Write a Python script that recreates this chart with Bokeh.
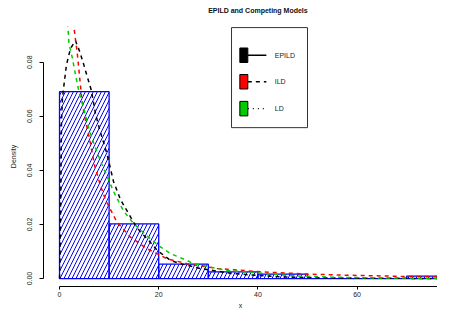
from bokeh.plotting import figure
from bokeh.models import Range1d, FixedTicker, LinearAxis
from bokeh.core.properties import value
from bokeh.embed import file_html
from bokeh.resources import INLINE

# ---------------- data ----------------
bin_edges = [0, 10, 20, 30, 40, 50, 60, 70, 80]
bin_density = [0.0691, 0.0202, 0.0053, 0.00246, 0.00165, 0.0, 0.0, 0.0009]

epild_x = [0, 0.1, 0.25, 0.4, 0.6, 0.9, 1.4, 2.2, 3.2, 4.1, 4.9, 5.6, 6.4, 7.3, 8.1,
           8.9, 9.6, 10.3, 10.9, 12.3, 14.9, 16.3, 17.7, 19.7, 22.4, 24.4, 28.4, 35,
           45, 55, 65, 80]
epild_y = [0, 0.008, 0.03, 0.058, 0.067, 0.0716, 0.079, 0.085, 0.088, 0.0838, 0.079,
           0.0746, 0.0697, 0.0606, 0.055, 0.0502, 0.0459, 0.0404, 0.0358, 0.0292,
           0.0209, 0.0172, 0.0147, 0.0104, 0.0067, 0.0055, 0.0037, 0.0018, 0.0006,
           0.0002, 0.0001, 0.0]

ild_x = [0, 1.2, 2.2, 2.9, 3.6, 4.4, 4.9, 5.9, 7.1, 8.3, 9.3, 11.6, 14.3, 17.7, 21.7,
         25.7, 31.8, 40.5, 50.6, 58.7, 68.8, 80]
ild_y = [0.13, 0.112, 0.099, 0.093, 0.083, 0.068, 0.0612, 0.053, 0.0416, 0.0341,
         0.029, 0.0208, 0.0153, 0.011, 0.0073, 0.0055, 0.0037, 0.0025, 0.0016, 0.0012,
         0.0008, 0.0006]

ld_x = [0, 1.0, 1.7, 1.9, 2.6, 3.0, 3.7, 4.2, 4.9, 5.6, 6.25, 7.6, 8.6, 9.9, 10.9,
        12.9, 15, 18.3, 20.4, 22.4, 25.7, 27, 33.8, 41.9, 47.2, 55, 65, 80]
ld_y = [0.115, 0.1, 0.093, 0.087, 0.0814, 0.0775, 0.071, 0.067, 0.063, 0.0575,
        0.0535, 0.0465, 0.042, 0.0365, 0.0322, 0.025, 0.0202, 0.0147, 0.0116, 0.0092,
        0.0067, 0.0055, 0.003, 0.0018, 0.001, 0.0005, 0.0002, 0.0001]

x_ticks = [0, 20, 40, 60, 80]
x_tick_labels = ["0", "20", "40", "60", "80"]
y_ticks = [0.0, 0.02, 0.04, 0.06, 0.08]
y_tick_labels = ["0.00", "0.02", "0.04", "0.06", "0.08"]

legend_labels = ["EPILD", "ILD", "LD"]
legend_colors = ["#000000", "#FF0000", "#00CD00"]
legend_dashes = ["solid", "4 4", "1 4"]

title_text = "EPILD and Competing Models"
title_center_x = 40          # middle of the plotting region (x from 0 to 80)
x_label = "x"
y_label = "Density"

# ---------------- styling ----------------
FONT = "Liberation Sans"
FS = "7px"
TXT = "#222222"

p = figure(width=437, height=311, output_backend="svg", toolbar_location=None,
           x_range=Range1d(-3.23, 76.21), y_range=Range1d(-0.00294, 0.0932),
           min_border_left=43, min_border_right=0, min_border_top=26,
           min_border_bottom=23, background_fill_color="white",
           border_fill_color="white")
p.outline_line_color = None
p.xgrid.visible = False
p.ygrid.visible = False

xa = p.below[0]
ya = p.left[0]

# title: drawn as the single label of a bare axis above the plot so that it
# is centred over the whole R plotting region
title_axis = LinearAxis(ticker=FixedTicker(ticks=[title_center_x]),
                        major_label_overrides={title_center_x: title_text},
                        axis_line_color=None, major_tick_line_color=None,
                        minor_tick_line_color=None, major_tick_out=0,
                        major_tick_in=0, major_label_standoff=13,
                        major_label_text_font=FONT, major_label_text_font_size=FS,
                        major_label_text_font_style="bold",
                        major_label_text_color="#111111")
p.add_layout(title_axis, "above")

# histogram bars
p.quad(left=bin_edges[:-1], right=bin_edges[1:], bottom=0, top=bin_density,
       fill_alpha=0, line_color="#0000FF", line_width=1.3,
       hatch_pattern="/", hatch_color="#0000FF", hatch_scale=8, hatch_weight=1)

# density curves
for xs, ys, col in [(epild_x, epild_y, legend_colors[0]),
                    (ild_x, ild_y, legend_colors[1]),
                    (ld_x, ld_y, legend_colors[2])]:
    p.line(xs, ys, line_color=col, line_width=1.5, line_dash="4 4")

# axes
for ax in (xa, ya):
    ax.axis_line_color = "black"
    ax.axis_line_width = 1
    ax.major_tick_line_color = "black"
    ax.major_tick_out = 4
    ax.major_tick_in = 0
    ax.minor_tick_line_color = None
    ax.major_label_text_font = FONT
    ax.major_label_text_font_size = FS
    ax.major_label_text_color = TXT
    ax.axis_label_text_font = FONT
    ax.axis_label_text_font_size = FS
    ax.axis_label_text_font_style = "normal"
    ax.axis_label_text_color = TXT

xa.ticker = FixedTicker(ticks=x_ticks)
xa.major_label_overrides = dict(zip(x_ticks, x_tick_labels))
xa.bounds = (0, 80)
xa.major_tick_out = 3
xa.major_label_standoff = 2
xa.axis_label = x_label
xa.axis_label_standoff = 2

ya.ticker = FixedTicker(ticks=y_ticks)
ya.major_label_overrides = dict(zip(y_ticks, y_tick_labels))
ya.bounds = (0, 0.08)
ya.major_label_orientation = "vertical"
ya.major_label_standoff = 7
ya.axis_label = y_label
ya.axis_label_standoff = 8

# legend (drawn by hand to mimic R's legend with fill boxes and line samples)
leg_y = [0.08257, 0.07277, 0.06283]
p.quad(left=[34.68], right=[50.0], top=[0.0928], bottom=[0.0558],
       fill_alpha=0, line_color="#333333", line_width=1)
p.rect(x=[37.16] * 3, y=leg_y, width=1.61, height=0.00536,
       fill_color=legend_colors, line_color="black", line_width=1)
for yy, dash in zip(leg_y, legend_dashes):
    p.line([37.97, 41.7], [yy, yy], line_color="black", line_width=1.3,
           line_dash=dash)
p.text(x=[43.4] * 3, y=leg_y, text=legend_labels, text_font=value(FONT),
       text_font_size=FS, text_baseline="middle", text_align="left",
       text_color=TXT)

open("out.html", "w").write(file_html(p, INLINE, "EPILD"))
